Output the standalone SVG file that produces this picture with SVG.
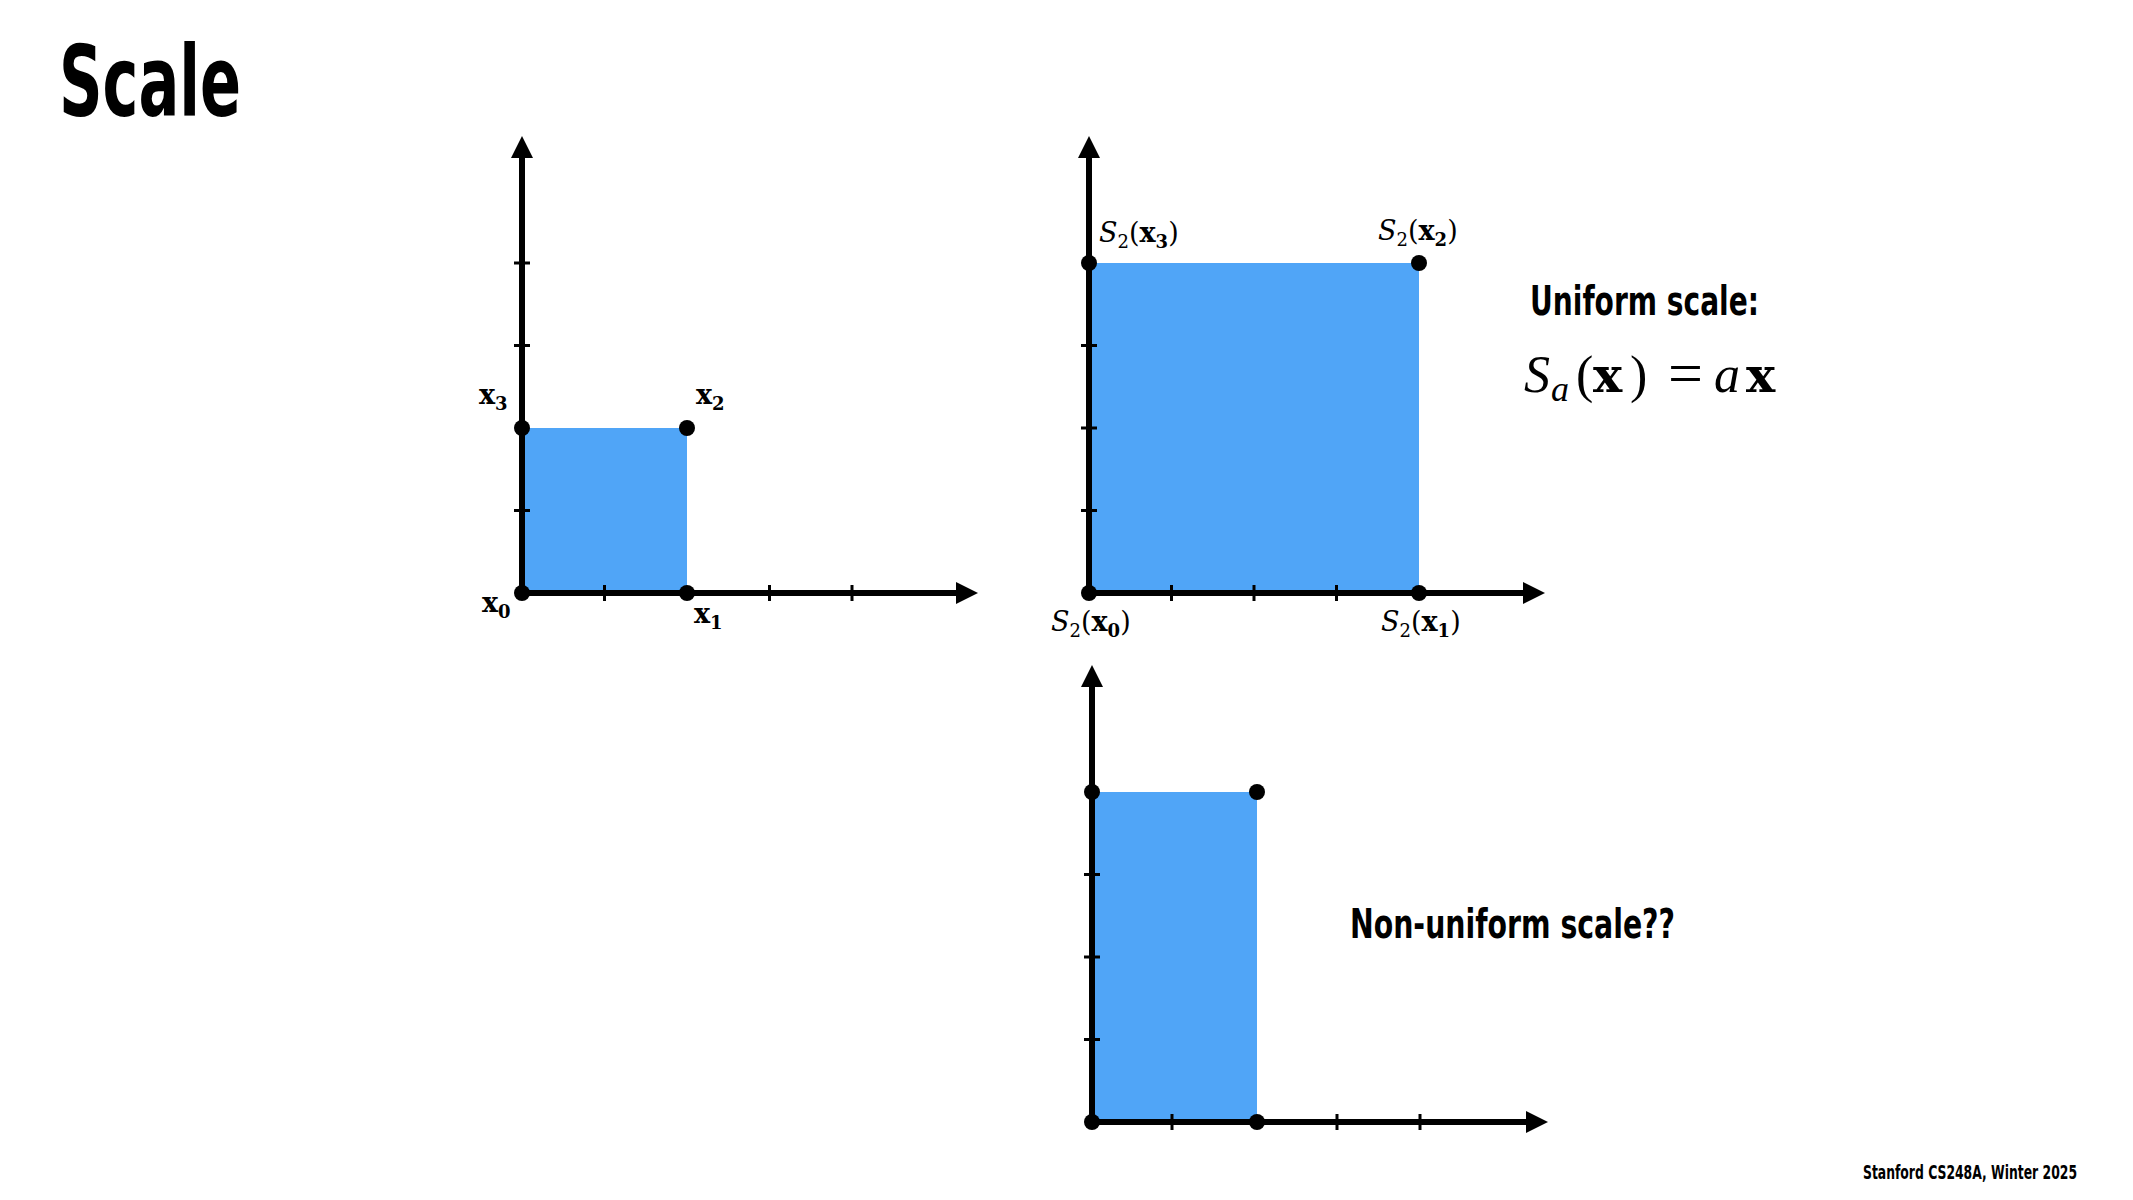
<svg xmlns="http://www.w3.org/2000/svg" width="2133" height="1200" viewBox="0 0 2133 1200">
<style>
.axis{stroke:#000;stroke-width:6;fill:none}
.tick{stroke:#000;stroke-width:3}
.dot{fill:#000}
.shape{fill:#50a5f7}
.head{font-family:"DejaVu Sans Condensed","Liberation Sans Narrow","Liberation Sans",sans-serif;font-weight:bold;fill:#000}
.lbl{font-family:"DejaVu Serif","Liberation Serif",serif;font-size:27px;fill:#000}
.b{font-weight:bold}
.i{font-style:italic}
.sub{font-size:18px}
.math{font-family:"Liberation Serif","DejaVu Serif",serif;font-size:52px;fill:#000}
.mx{font-family:"DejaVu Serif","Liberation Serif",serif;font-weight:bold;font-size:49px}
</style>
<defs>
<marker id="arr" markerUnits="userSpaceOnUse" markerWidth="24" markerHeight="24" viewBox="0 -12 24 24" refX="2" refY="0" orient="auto">
<path d="M0,-11 L22,0 L0,11 Z" fill="#000"/>
</marker>
</defs>
<rect width="2133" height="1200" fill="#fff"/>
<text class="head" x="59" y="116" font-size="98" textLength="182" lengthAdjust="spacingAndGlyphs">Scale</text>
<g id="plot-original">
<rect class="shape" x="522" y="428" width="165" height="165"/>
</g>
<g id="plot-uniform">
<rect class="shape" x="1089" y="263" width="330" height="330"/>
</g>
<g id="plot-nonuniform">
<rect class="shape" x="1092" y="792" width="165" height="330"/>
</g>
<g id="connectors">
<line class="axis" x1="522" y1="596" x2="522" y2="156" marker-end="url(#arr)"/>
<line class="axis" x1="519" y1="593" x2="958" y2="593" marker-end="url(#arr)"/>
<line class="axis" x1="1089" y1="596" x2="1089" y2="156" marker-end="url(#arr)"/>
<line class="axis" x1="1086" y1="593" x2="1525" y2="593" marker-end="url(#arr)"/>
<line class="axis" x1="1092" y1="1125" x2="1092" y2="685" marker-end="url(#arr)"/>
<line class="axis" x1="1089" y1="1122" x2="1528" y2="1122" marker-end="url(#arr)"/>
</g>
<g id="ticks">
<line class="tick" x1="604.5" y1="585" x2="604.5" y2="601"/>
<line class="tick" x1="769.5" y1="585" x2="769.5" y2="601"/>
<line class="tick" x1="852" y1="585" x2="852" y2="601"/>
<line class="tick" x1="514" y1="510.5" x2="530" y2="510.5"/>
<line class="tick" x1="514" y1="345.5" x2="530" y2="345.5"/>
<line class="tick" x1="514" y1="263" x2="530" y2="263"/>
<line class="tick" x1="1171.5" y1="585" x2="1171.5" y2="601"/>
<line class="tick" x1="1254" y1="585" x2="1254" y2="601"/>
<line class="tick" x1="1336.5" y1="585" x2="1336.5" y2="601"/>
<line class="tick" x1="1081" y1="510.5" x2="1097" y2="510.5"/>
<line class="tick" x1="1081" y1="428" x2="1097" y2="428"/>
<line class="tick" x1="1081" y1="345.5" x2="1097" y2="345.5"/>
<line class="tick" x1="1172" y1="1114" x2="1172" y2="1130"/>
<line class="tick" x1="1337" y1="1114" x2="1337" y2="1130"/>
<line class="tick" x1="1420" y1="1114" x2="1420" y2="1130"/>
<line class="tick" x1="1084" y1="1039.5" x2="1100" y2="1039.5"/>
<line class="tick" x1="1084" y1="957" x2="1100" y2="957"/>
<line class="tick" x1="1084" y1="874.5" x2="1100" y2="874.5"/>
</g>
<g id="points">
<circle class="dot" cx="522" cy="593" r="8"/>
<circle class="dot" cx="687" cy="593" r="8"/>
<circle class="dot" cx="687" cy="428" r="8"/>
<circle class="dot" cx="522" cy="428" r="8"/>
<circle class="dot" cx="1089" cy="593" r="8"/>
<circle class="dot" cx="1419" cy="593" r="8"/>
<circle class="dot" cx="1419" cy="263" r="8"/>
<circle class="dot" cx="1089" cy="263" r="8"/>
<circle class="dot" cx="1092" cy="1122" r="8"/>
<circle class="dot" cx="1257" cy="1122" r="8"/>
<circle class="dot" cx="1257" cy="792" r="8"/>
<circle class="dot" cx="1092" cy="792" r="8"/>
</g>
<g id="labels">
<text class="lbl b" x="479" y="404">x<tspan class="sub" dy="6">3</tspan></text>
<text class="lbl b" x="696" y="404">x<tspan class="sub" dy="6">2</tspan></text>
<text class="lbl b" x="482" y="612">x<tspan class="sub" dy="6">0</tspan></text>
<text class="lbl b" x="694" y="623">x<tspan class="sub" dy="6">1</tspan></text>
<text class="lbl" x="1099" y="242"><tspan class="i">S</tspan><tspan class="sub" dy="6">2</tspan><tspan dy="-6">(</tspan><tspan class="b">x</tspan><tspan class="sub b" dy="6">3</tspan><tspan dy="-6">)</tspan></text>
<text class="lbl" x="1378" y="240"><tspan class="i">S</tspan><tspan class="sub" dy="6">2</tspan><tspan dy="-6">(</tspan><tspan class="b">x</tspan><tspan class="sub b" dy="6">2</tspan><tspan dy="-6">)</tspan></text>
<text class="lbl" x="1051" y="631"><tspan class="i">S</tspan><tspan class="sub" dy="6">2</tspan><tspan dy="-6">(</tspan><tspan class="b">x</tspan><tspan class="sub b" dy="6">0</tspan><tspan dy="-6">)</tspan></text>
<text class="lbl" x="1381" y="631"><tspan class="i">S</tspan><tspan class="sub" dy="6">2</tspan><tspan dy="-6">(</tspan><tspan class="b">x</tspan><tspan class="sub b" dy="6">1</tspan><tspan dy="-6">)</tspan></text>
</g>
<g id="uniform-text">
<text class="head" x="1530" y="315" font-size="40" textLength="229" lengthAdjust="spacingAndGlyphs">Uniform scale:</text>
<text class="math" y="392"><tspan class="i" x="1524">S</tspan><tspan class="i" x="1551" y="401" font-size="36">a</tspan><tspan x="1576" y="392">(</tspan><tspan class="mx" x="1593">x</tspan><tspan x="1630">)</tspan><tspan x="1668" y="394" font-size="62">=</tspan><tspan class="i" x="1714" y="392">a</tspan><tspan class="mx" x="1746">x</tspan></text>
</g>
<g id="nonuniform-text">
<text class="head" x="1350" y="938" font-size="41" textLength="325" lengthAdjust="spacingAndGlyphs">Non-uniform scale??</text>
</g>
<text class="head" transform="translate(2077,1179) scale(0.725,1)" x="0" y="0" font-size="19" text-anchor="end">Stanford CS248A, Winter 2025</text>
</svg>
